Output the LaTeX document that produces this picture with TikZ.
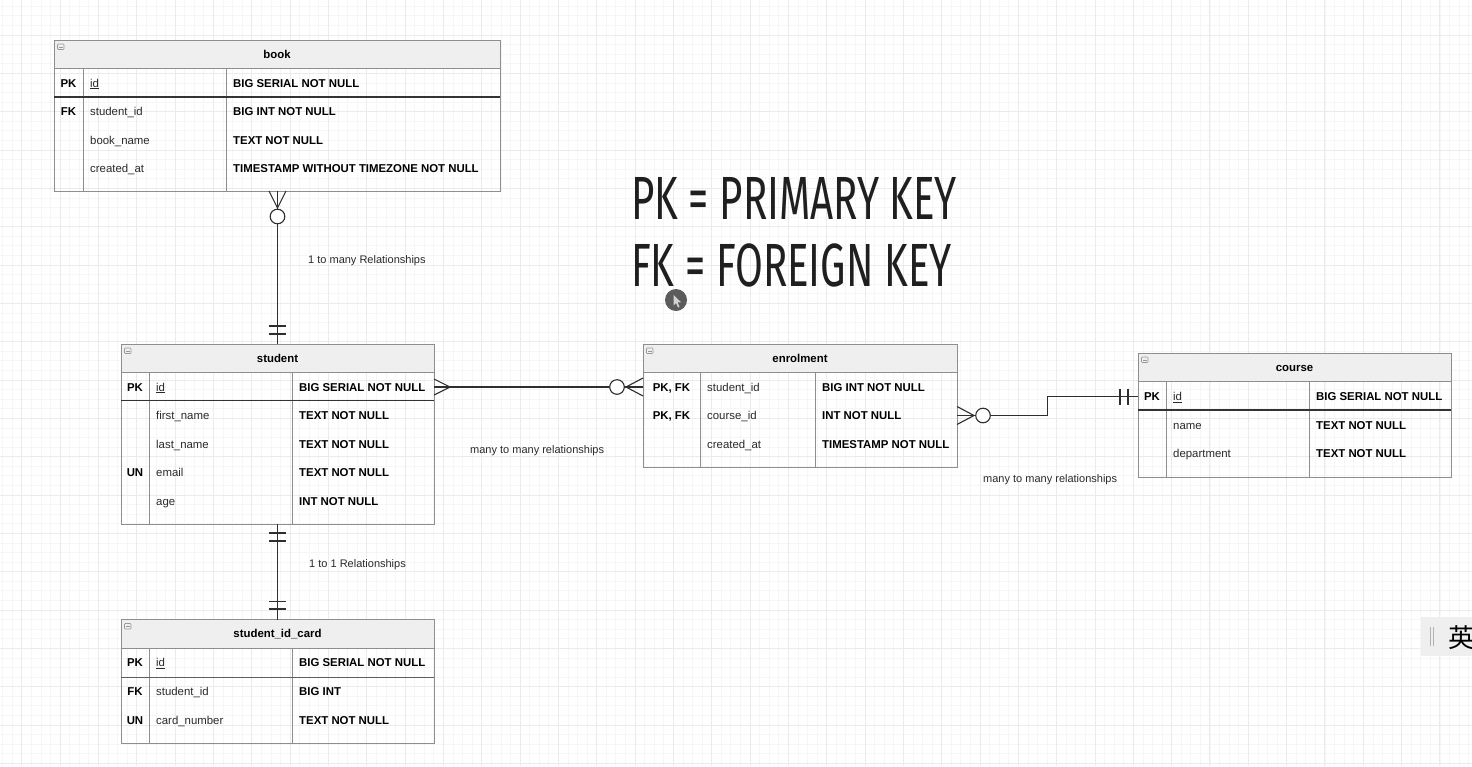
\documentclass[tikz,border=0pt]{standalone}
\usepackage{fontspec}
\setmainfont{Liberation Sans}
\newfontfamily\bigfont[FakeStretch=0.66]{Fira Sans}
\newfontfamily\cjkfont{Noto Sans CJK SC}
\usetikzlibrary{calc}
\definecolor{gridminor}{HTML}{F6F6F6}
\definecolor{gridmajor}{HTML}{EBEBEB}
\definecolor{hdrfill}{HTML}{EFEFEF}
\definecolor{tblgray}{HTML}{8E8E8E}
\definecolor{sepdark}{HTML}{333333}
\definecolor{conncol}{HTML}{2E2E2E}
\definecolor{namecol}{HTML}{2A2A2A}
\definecolor{imefill}{HTML}{EFEFEF}
\definecolor{cursorgray}{HTML}{5C5C5C}
\tikzset{
  x=1pt, y=-1pt,
  gminor/.style={draw=gridminor, line width=0.7pt},
  gmajor/.style={draw=gridmajor, line width=0.9pt},
  tblbox/.style={draw=tblgray, line width=0.9pt, inner sep=0pt, outer sep=0pt},
  tblline/.style={draw=tblgray, line width=0.9pt},
  sepline/.style={draw=sepdark, line width=1.6pt},
  septhin/.style={draw=sepdark!80, line width=1.0pt},
  iconline/.style={draw=gray!80, line width=0.6pt, rounded corners=0.8pt},
  cell/.style={inner sep=0pt, text height=8.2pt, text depth=0pt, font=\fontsize{11.4}{13}\selectfont},
  titletext/.style={cell, font=\fontsize{11.4}{13}\selectfont\bfseries},
  keytext/.style={cell, font=\fontsize{11.4}{13}\selectfont\bfseries, anchor=center},
  nametext/.style={cell, text=namecol, anchor=west},
  typetext/.style={cell, font=\fontsize{11.4}{13}\selectfont\bfseries, anchor=west},
  lbl/.style={cell, font=\fontsize{11}{13}\selectfont, text=namecol, anchor=west},
  conn/.style={draw=conncol, line width=1.1pt},
  bigtext/.style={inner sep=0pt, anchor=base west, text=black!88, font=\bigfont\fontsize{61}{70}\selectfont},
}
% table: name, x1, y1, x2, y2, header bottom, key col x, type col x, title
\newcommand\ertable[9]{%
  \fill[hdrfill] (#2,#3) rectangle (#4,#6);
  \pgfmathsetmacro\tblw{#4-#2}\pgfmathsetmacro\tblh{#5-#3}
  \node[tblbox, minimum width=\tblw pt, minimum height=\tblh pt, anchor=north west] (#1) at (#2,#3) {};
  \draw[tblline] (#2,#6) -- (#4,#6) (#7,#6) -- (#7,#5) (#8,#6) -- (#8,#5);
  \node[titletext] (#1-title) at ({(#2+#4)/2},{(#3+#6)/2}) {#9};
  \draw[iconline] ({#2+3.5},{#3+4}) rectangle ({#2+10},{#3+9.5});
  \draw[draw=gray!80, line width=0.6pt] ({#2+5},{#3+6.8}) -- ({#2+8.5},{#3+6.8});
}
% row: prefix, key x, name x, type x, y, key, name, type
\newcommand\errow[8]{%
  \node[keytext] (#1k) at (#2,#5) {#6};
  \node[nametext] (#1n) at (#3,#5) {#7};
  \node[typetext] (#1t) at (#4,#5) {#8};
}
\begin{document}
\begin{tikzpicture}
\useasboundingbox (0,0) rectangle (1472,766);
\fill[white] (0,0) rectangle (1472,766);
% grid
\foreach \i in {0,...,153} {\draw[gminor] ({2.53+\i*9.583},0) -- ++(0,766);}
\foreach \i in {0,...,80} {\draw[gminor] (0,{6.25+\i*9.583}) -- ++(1472,0);}
\foreach \i in {0,...,39} {\draw[gmajor] ({-16.63+\i*38.33},0) -- ++(0,766);}
\foreach \i in {0,...,20} {\draw[gmajor] (0,{-3.33+\i*38.33}) -- ++(1472,0);}

% ---------- book ----------
\ertable{book}{54}{40}{500}{191}{68}{83}{226}{book}
\draw[sepline] (54,97) -- (500,97);
\errow{book-r1}{68.5}{90}{233}{83}{PK}{\underline{id}}{BIG SERIAL NOT NULL}
\errow{book-r2}{68.5}{90}{233}{111.5}{FK}{student\_id}{BIG INT NOT NULL}
\errow{book-r3}{68.5}{90}{233}{140}{}{book\_name}{TEXT NOT NULL}
\errow{book-r4}{68.5}{90}{233}{168.5}{}{created\_at}{TIMESTAMP WITHOUT TIMEZONE NOT NULL}

% ---------- student ----------
\ertable{student}{121}{344}{434}{524}{372}{149}{292}{student}
\draw[sepline] (121,400.5) -- (434,400.5);
\errow{st-r1}{135}{156}{299}{387}{PK}{\underline{id}}{BIG SERIAL NOT NULL}
\errow{st-r2}{135}{156}{299}{415.5}{}{first\_name}{TEXT NOT NULL}
\errow{st-r3}{135}{156}{299}{444}{}{last\_name}{TEXT NOT NULL}
\errow{st-r4}{135}{156}{299}{472.5}{UN}{email}{TEXT NOT NULL}
\errow{st-r5}{135}{156}{299}{501}{}{age}{INT NOT NULL}

% ---------- enrolment ----------
\ertable{enrol}{643}{344}{957}{467}{372}{700}{815}{enrolment}
\errow{en-r1}{671.5}{707}{822}{387}{PK, FK}{student\_id}{BIG INT NOT NULL}
\errow{en-r2}{671.5}{707}{822}{415.5}{PK, FK}{course\_id}{INT NOT NULL}
\errow{en-r3}{671.5}{707}{822}{444}{}{created\_at}{TIMESTAMP NOT NULL}

% ---------- course ----------
\ertable{course}{1138}{353}{1451}{477}{381.5}{1166}{1309}{course}
\draw[sepline] (1138,410) -- (1451,410);
\errow{co-r1}{1152}{1173}{1316}{396.5}{PK}{\underline{id}}{BIG SERIAL NOT NULL}
\errow{co-r2}{1152}{1173}{1316}{425}{}{name}{TEXT NOT NULL}
\errow{co-r3}{1152}{1173}{1316}{453.5}{}{department}{TEXT NOT NULL}

% ---------- student_id_card ----------
\ertable{card}{121}{619.5}{434}{743}{648}{149}{292}{student\_id\_card}
\draw[septhin] (121,677) -- (434,677);
\errow{ca-r1}{135}{156}{299}{662.5}{PK}{\underline{id}}{BIG SERIAL NOT NULL}
\errow{ca-r2}{135}{156}{299}{691.5}{FK}{student\_id}{BIG INT}
\errow{ca-r3}{135}{156}{299}{720}{UN}{card\_number}{TEXT NOT NULL}

% ---------- connector end points ----------
\coordinate (bookS) at (277.5,191);
\coordinate (studentN) at (277.5,344);
\coordinate (studentE) at (434,387);
\coordinate (enrolW) at (643,387);
\coordinate (enrolE) at (957,415.5);
\coordinate (courseW) at (1138,396.5);
\coordinate (studentS) at (277.5,524);
\coordinate (cardN) at (277.5,619.5);

% book -> student (zero-or-many to one)
\draw[conn] (bookS) -- (studentN);
\draw[conn] (bookS) ++(-8.5,0) -- ++(8.5,17) -- ++(8.5,-17);
\draw[conn, fill=white] (bookS) ++(0,25.5) circle[radius=7.3];
\draw[conn] (studentN) ++(-8.5,-18) -- ++(17,0);
\draw[conn] (studentN) ++(-8.5,-10) -- ++(17,0);

% student -> enrolment (many to zero-or-many)
\draw[conn] (studentE) -- (enrolW);
\draw[conn] (studentE) ++(0,-8) -- ++(16,8) -- ++(-16,8);
\draw[conn] (enrolW) ++(0,-9) -- ++(-17,9) -- ++(17,9);
\draw[conn, fill=white] (enrolW) ++(-26,0) circle[radius=7.3];

% enrolment -> course (zero-or-many to one)
\draw[conn] (enrolE) -| ($(enrolE)!0.5!(courseW)$) |- (courseW);
\draw[conn] (enrolE) ++(0,-9) -- ++(17,9) -- ++(-17,9);
\draw[conn, fill=white] (enrolE) ++(26,0) circle[radius=7.3];
\draw[conn] (courseW) ++(-18,-8) -- ++(0,16);
\draw[conn] (courseW) ++(-10,-8) -- ++(0,16);

% student -> student_id_card (one to one)
\draw[conn] (studentS) -- (cardN);
\draw[conn] (studentS) ++(-8.5,9) -- ++(17,0);
\draw[conn] (studentS) ++(-8.5,17) -- ++(17,0);
\draw[conn] (cardN) ++(-8.5,-18) -- ++(17,0);
\draw[conn] (cardN) ++(-8.5,-10.5) -- ++(17,0);

% labels
\node[lbl] (lbl1) at (308,259) {1 to many Relationships};
\node[lbl] (lbl2) at (470,449) {many to many relationships};
\node[lbl] (lbl3) at (309,563) {1 to 1 Relationships};
\node[lbl] (lbl4) at (983,478) {many to many relationships};

% legend
\node[bigtext] (legPK) at (631,219.5) {PK = PRIMARY KEY};
\node[bigtext] (legFK) at (631,286.5) {FK = FOREIGN KEY};

% cursor
\fill[cursorgray] (676,300) circle[radius=11];
\fill[gray!35] (673.5,295) -- (673.5,305.5) -- (676,303) -- (678,307.5) -- (679.5,306.8) -- (677.6,302.4) -- (681,302.2) -- cycle;

% input method indicator
\fill[imefill] (1421,617) rectangle (1472,656);
\draw[gray!60, line width=0.8pt] (1430,627) -- (1430,646) (1433.5,627) -- (1433.5,646);
\node[inner sep=0pt, anchor=west, font=\cjkfont\fontsize{26}{28}\selectfont] (ime) at (1448,638) {英};
\end{tikzpicture}
\end{document}
